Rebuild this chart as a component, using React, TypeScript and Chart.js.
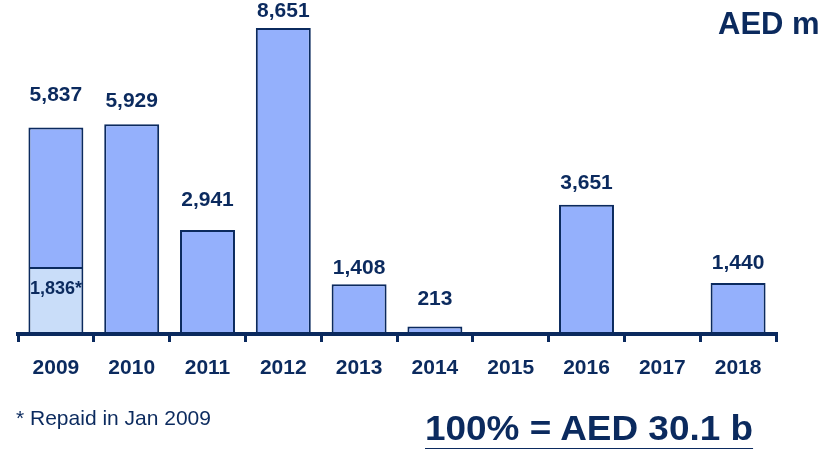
import React, { useEffect, useRef } from "react";
import { Chart, registerables } from "chart.js";

Chart.register(...registerables);

const YEARS = ["2009", "2010", "2011", "2012", "2013", "2014", "2015", "2016", "2017", "2018"];
const TOTALS: (number | null)[] = [5837, 5929, 2941, 8651, 1408, 213, null, 3651, null, 1440];
const REPAID: (number | null)[] = [1836, null, null, null, null, null, null, null, null, null];

const UNIT_LABEL = "AED m";
const FOOTNOTE = "* Repaid in Jan 2009";
const TOTAL_NOTE = "100% = AED 30.1 b";

// visual gap (px) between each value label's baseline and its bar top
const LABEL_GAP = [27, 17, 24, 11, 10, 21, 0, 16, 0, 14];
const REPAID_LABEL_LIFT = 12;

const NAVY = "#0b2a5e";
const BAR_FILL = "#94b0fc";
const REPAID_FILL = "#c9ddf9";
const FONT = "'Liberation Sans', Arial, sans-serif";

const fmt = (v: number) => v.toLocaleString("en-US");

const labelPlugin = {
  id: "valueLabels",
  afterDatasetsDraw(chart: any) {
    const { ctx, scales } = chart;
    const xs = scales.x;
    const ys = scales.y;
    ctx.save();
    ctx.fillStyle = NAVY;
    ctx.textAlign = "center";
    ctx.textBaseline = "alphabetic";
    ctx.font = `bold 21px ${FONT}`;
    TOTALS.forEach((t, i) => {
      if (t == null) return;
      const x = xs.getPixelForValue(i);
      const y = ys.getPixelForValue(t) - LABEL_GAP[i];
      ctx.fillText(fmt(t), x, y);
    });
    ctx.font = `bold 18px ${FONT}`;
    ctx.textBaseline = "middle";
    REPAID.forEach((r, i) => {
      if (r == null) return;
      const x = xs.getPixelForValue(i);
      const y = ys.getPixelForValue(r / 2) - REPAID_LABEL_LIFT;
      ctx.fillText(fmt(r) + "*", x, y);
    });
    ctx.restore();
  },
};

export default function App() {
  const ref = useRef<HTMLCanvasElement | null>(null);

  useEffect(() => {
    const prevMargin = document.body.style.margin;
    document.body.style.margin = "0";
    if (!ref.current) return;
    const remaining = TOTALS.map((t, i) => (t == null ? null : t - (REPAID[i] ?? 0)));
    const chart = new Chart(ref.current, {
      type: "bar",
      data: {
        labels: YEARS,
        datasets: [
          {
            label: "Repaid",
            data: REPAID as any,
            backgroundColor: REPAID_FILL,
            borderColor: NAVY,
            borderWidth: { top: 0, left: 2, right: 2, bottom: 2 } as any,
            borderSkipped: false,
            categoryPercentage: 1,
            barPercentage: 0.725,
          },
          {
            label: "Maturity",
            data: remaining as any,
            backgroundColor: BAR_FILL,
            borderColor: NAVY,
            borderWidth: 2,
            borderSkipped: false,
            categoryPercentage: 1,
            barPercentage: 0.725,
          },
        ],
      },
      options: {
        animation: false,
        responsive: false,
        maintainAspectRatio: false,
        layout: { padding: { left: 18, right: 61, top: 0, bottom: 0 } },
        plugins: { legend: { display: false }, tooltip: { enabled: false } },
        scales: {
          x: {
            stacked: true,
            offset: true,
            grid: {
              display: true,
              offset: true,
              drawOnChartArea: false,
              drawTicks: true,
              tickLength: 8,
              color: NAVY,
              lineWidth: 3,
            },
            border: { display: true, color: NAVY, width: 4 },
            ticks: {
              color: NAVY,
              font: { family: FONT, size: 21, weight: "bold" },
              padding: 14,
              maxRotation: 0,
              autoSkip: false,
            },
            afterFit: (s: any) => {
              s.height = 115;
            },
          },
          y: { stacked: true, display: false, min: 0, max: 9443 },
        },
      },
      plugins: [labelPlugin],
    });
    return () => {
      chart.destroy();
      document.body.style.margin = prevMargin;
    };
  }, []);

  const text: React.CSSProperties = {
    position: "absolute",
    color: NAVY,
    fontFamily: FONT,
    whiteSpace: "nowrap",
  };

  return (
    <div style={{ position: "absolute", left: 0, top: 0, width: 837, height: 449, background: "#fff" }}>
      <canvas ref={ref} width={837} height={449} style={{ display: "block", width: 837, height: 449 }} />
      <div style={{ ...text, left: 718, top: 8, fontSize: 31, lineHeight: "31px", fontWeight: "bold" }}>{UNIT_LABEL}</div>
      <div style={{ ...text, left: 16, top: 406.7, fontSize: 21, lineHeight: "21px" }}>{FOOTNOTE}</div>
      <div
        style={{
          ...text,
          left: 425,
          top: 409.5,
          fontSize: 35,
          lineHeight: "35px",
          fontWeight: "bold",
          transform: "scaleX(1.055)",
          transformOrigin: "left top",
          textDecoration: "underline",
          textDecorationThickness: "3px",
          textUnderlineOffset: "8px",
        }}
      >
        {TOTAL_NOTE}
      </div>
    </div>
  );
}
